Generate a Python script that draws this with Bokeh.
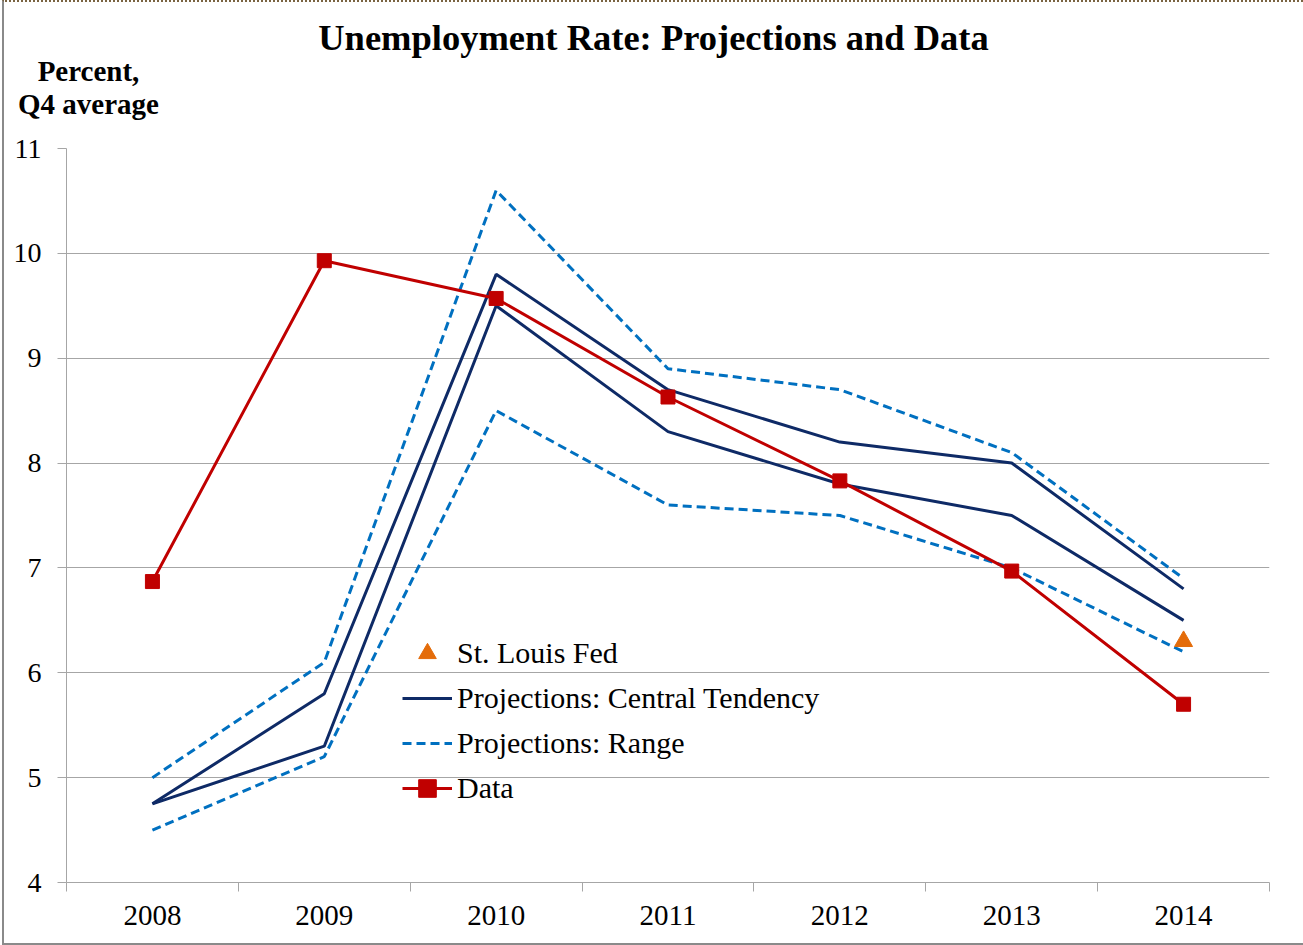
from bokeh.plotting import figure
from bokeh.layouts import column
from bokeh.models import (Range1d, LinearAxis, FixedTicker, Legend, LegendItem, Div)
from bokeh.embed import file_html
from bokeh.resources import INLINE

years = [2008, 2009, 2010, 2011, 2012, 2013, 2014]
data = [6.87, 9.93, 9.57, 8.63, 7.83, 6.97, 5.70]
central_upper = [4.75, 5.8, 9.8, 8.7, 8.2, 8.0, 6.8]
central_lower = [4.75, 5.3, 9.5, 8.3, 7.8, 7.5, 6.5]
range_upper = [5.0, 6.1, 10.6, 8.9, 8.7, 8.1, 6.9]
range_lower = [4.5, 5.2, 8.5, 7.6, 7.5, 7.0, 6.2]
stl_years = [2014]
stl_values = [6.3]
y_ticks = [4, 5, 6, 7, 8, 9, 10, 11]
title_text = "Unemployment Rate: Projections and Data"
ylabel_lines = ["Percent,", "Q4 average"]

FONT = "Liberation Serif"
NAVY = "#0E2A66"
BLUE = "#0070C0"
RED = "#C00000"
ORANGE = "#E46C0A"
GRID = "#A6A6A6"

W = 1299
HEAD_H = 120

x_lo = years[0] - 0.5
x_hi = years[-1] + 0.5
boundaries = [y - 0.5 for y in years] + [x_hi]

header_html = (
    f'<div style="position:relative;width:{W}px;height:{HEAD_H}px;font-family:\'{FONT}\';color:black;">'
    f'<div style="position:absolute;left:0;top:18px;width:{W}px;text-align:center;'
    f'font-size:36.5px;line-height:1;font-weight:bold;white-space:nowrap;">{title_text}</div>'
    f'<div style="position:absolute;left:0;top:55px;width:169px;text-align:center;'
    f'font-size:29px;line-height:1;font-weight:bold;white-space:nowrap;">{ylabel_lines[0]}</div>'
    f'<div style="position:absolute;left:0;top:88px;width:169px;text-align:center;'
    f'font-size:29px;line-height:1;font-weight:bold;white-space:nowrap;">{ylabel_lines[1]}</div>'
    '</div>'
)
header = Div(text=header_html, width=W, height=HEAD_H, margin=0)

p = figure(width=W, height=941 - HEAD_H, x_range=Range1d(x_lo, x_hi), y_range=Range1d(4, 11),
           output_backend="svg", toolbar_location=None, x_axis_location=None,
           y_axis_location=None, min_border_left=62, min_border_right=34,
           min_border_top=26, min_border_bottom=61)
p.outline_line_color = None
p.background_fill_color = "white"
p.border_fill_color = "white"

# y axis
yax = LinearAxis(ticker=FixedTicker(ticks=y_ticks))
yax.axis_line_color = GRID
yax.major_tick_line_color = GRID
yax.major_tick_out = 9
yax.major_tick_in = 0
yax.minor_tick_line_color = None
yax.major_label_text_font = FONT
yax.major_label_text_font_size = "28px"
yax.major_label_text_color = "black"
yax.major_label_standoff = 16
p.add_layout(yax, "left")

# x boundary ticks axis
xb = LinearAxis(ticker=FixedTicker(ticks=boundaries))
xb.major_label_text_font_size = "0px"
xb.major_label_standoff = 0
xb.axis_line_color = GRID
xb.major_tick_line_color = GRID
xb.major_tick_out = 9
xb.major_tick_in = 0
xb.minor_tick_line_color = None
p.add_layout(xb, "below")

# x labels axis
xc = LinearAxis(ticker=FixedTicker(ticks=years))
xc.axis_line_color = None
xc.major_tick_line_color = None
xc.major_tick_out = 0
xc.major_tick_in = 0
xc.minor_tick_line_color = None
xc.major_label_text_font = FONT
xc.major_label_text_font_size = "29px"
xc.major_label_text_color = "black"
xc.major_label_standoff = 14
p.add_layout(xc, "below")

p.xgrid.visible = False
p.ygrid.ticker = FixedTicker(ticks=y_ticks)
p.ygrid.grid_line_color = GRID
p.ygrid.grid_line_width = 1

r_ru = p.line(years, range_upper, line_color=BLUE, line_width=3, line_dash="9 5")
r_rl = p.line(years, range_lower, line_color=BLUE, line_width=3, line_dash="9 5")
r_cu = p.line(years, central_upper, line_color=NAVY, line_width=3)
r_cl = p.line(years, central_lower, line_color=NAVY, line_width=3)
r_dl = p.line(years, data, line_color=RED, line_width=3)
r_ds = p.scatter(years, data, marker="square", size=14, fill_color=RED, line_color=RED)
r_st = p.scatter(stl_years, stl_values, marker="triangle", size=18, fill_color=ORANGE, line_color=ORANGE)

legend = Legend(items=[
    LegendItem(label="St. Louis Fed", renderers=[r_st]),
    LegendItem(label="Projections: Central Tendency", renderers=[r_cu]),
    LegendItem(label="Projections: Range", renderers=[r_ru]),
    LegendItem(label="Data", renderers=[r_dl, r_ds]),
], location=(336, 72))
legend.label_text_font = FONT
legend.label_text_font_size = "30px"
legend.label_text_color = "black"
legend.glyph_width = 50
legend.glyph_height = 44
legend.label_height = 44
legend.label_standoff = 5
legend.spacing = 1
legend.padding = 0
legend.margin = 0
legend.border_line_color = None
legend.background_fill_alpha = 0
p.add_layout(legend, "center")

page = column(header, p, spacing=0)
page.styles = {"border-left": "2px solid #8a8a8a", "border-bottom": "2px solid #8a8a8a",
               "border-top": "2px dotted #7a6442", "margin-left": "2px", "background": "white"}

open("out.html", "w").write(file_html(page, INLINE))
